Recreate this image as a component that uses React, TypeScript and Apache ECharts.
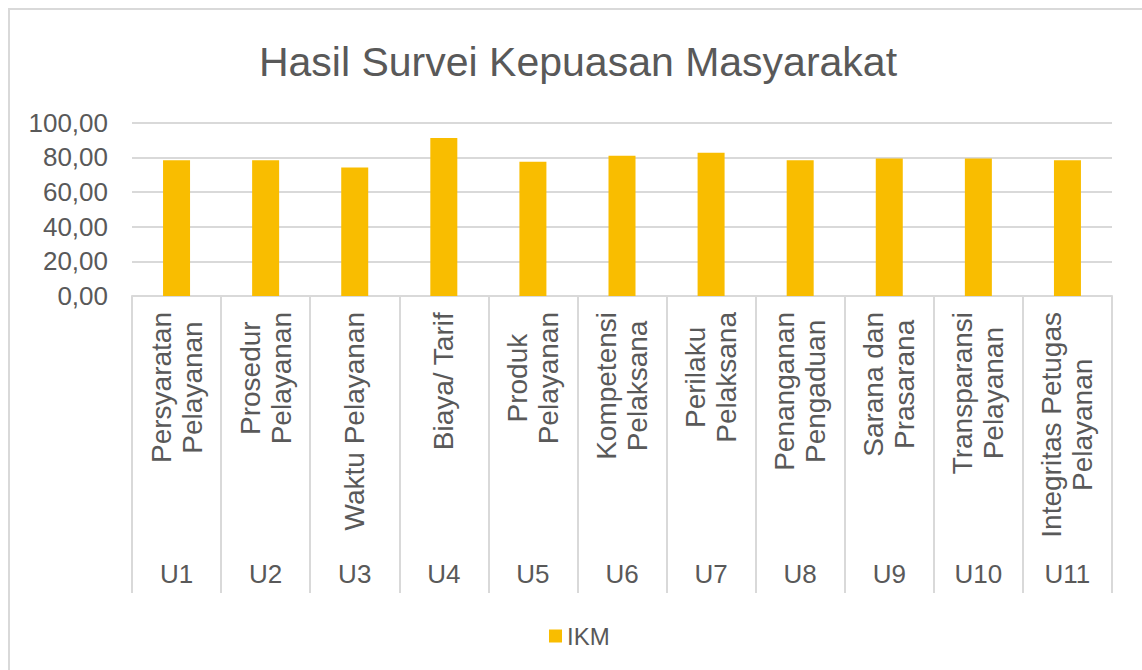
import React, { useEffect, useRef } from "react";
import * as echarts from "echarts";

const codes = ["U1", "U2", "U3", "U4", "U5", "U6", "U7", "U8", "U9", "U10", "U11"];
const names = [
  "Persyaratan\nPelayanan",
  "Prosedur\nPelayanan",
  "Waktu Pelayanan",
  "Biaya/ Tarif",
  "Produk\nPelayanan",
  "Kompetensi\nPelaksana",
  "Perilaku\nPelaksana",
  "Penanganan\nPengaduan",
  "Sarana dan\nPrasarana",
  "Transparansi\nPelayanan",
  "Integritas Petugas\nPelayanan",
];
const ikm = [78.4, 78.4, 74.2, 91.2, 77.4, 80.9, 82.6, 78.4, 79.3, 79.3, 78.4];

const FONT = "'Liberation Sans', Arial, sans-serif";
const TEXT = "#595959";
const GRID = "#D9D9D9";
const BAR = "#F9BD00";

export default function App() {
  const ref = useRef<HTMLDivElement>(null);
  useEffect(() => {
    if (!ref.current) return;
    const chart = echarts.init(ref.current, undefined, { renderer: "svg" });
    chart.setOption({
      animation: false,
      backgroundColor: "#ffffff",
      title: {
        text: "Hasil Survei Kepuasan Masyarakat",
        left: 573,
        textAlign: "center",
        top: 36,
        textStyle: { fontFamily: FONT, fontSize: 41, fontWeight: "normal", color: TEXT },
      },
      legend: {
        data: ["IKM"],
        left: 544,
        top: 619,
        icon: "rect",
        itemWidth: 13,
        itemHeight: 13,
        textStyle: { fontFamily: FONT, fontSize: 24, color: TEXT },
      },
      grid: { left: 132, right: 30, top: 122.7, bottom: 374 },
      xAxis: [
        {
          type: "category",
          data: names,
          position: "bottom",
          axisLine: { show: true, lineStyle: { color: GRID, width: 2 } },
          axisTick: { show: true, length: 297, interval: 0, lineStyle: { color: GRID, width: 2 } },
          axisLabel: {
            interval: 0,
            rotate: 90,
            margin: 16,
            formatter: (v: string) => v.split("\n").map((s) => `{c|${s}}`).join("\n"),
            rich: {
              c: { align: "center", fontFamily: FONT, fontSize: 28, lineHeight: 31, color: TEXT },
            },
          },
        },
        {
          type: "category",
          data: codes,
          position: "bottom",
          axisLine: { show: false },
          axisTick: { show: false },
          axisLabel: {
            interval: 0,
            margin: 265,
            fontFamily: FONT,
            fontSize: 26,
            color: TEXT,
          },
        },
      ],
      yAxis: {
        type: "value",
        min: 0,
        max: 100,
        interval: 20,
        axisLine: { show: false },
        axisTick: { show: false },
        splitLine: { lineStyle: { color: GRID, width: 2 } },
        axisLabel: {
          margin: 24,
          fontFamily: FONT,
          fontSize: 26,
          color: TEXT,
          formatter: (v: number) => v.toFixed(2).replace(".", ","),
        },
      },
      series: [
        {
          name: "IKM",
          type: "bar",
          data: ikm,
          barWidth: 27,
          itemStyle: { color: BAR },
        },
      ],
      graphic: [
        { type: "line", shape: { x1: 9, y1: 8, x2: 9, y2: 670 }, style: { stroke: GRID, lineWidth: 2 } },
        { type: "line", shape: { x1: 8, y1: 9, x2: 1142, y2: 9 }, style: { stroke: GRID, lineWidth: 2 } },
      ],
    });
    return () => chart.dispose();
  }, []);
  return (
    <div
      ref={ref}
      style={{ position: "fixed", left: 0, top: 0, width: 1142, height: 670 }}
    />
  );
}
